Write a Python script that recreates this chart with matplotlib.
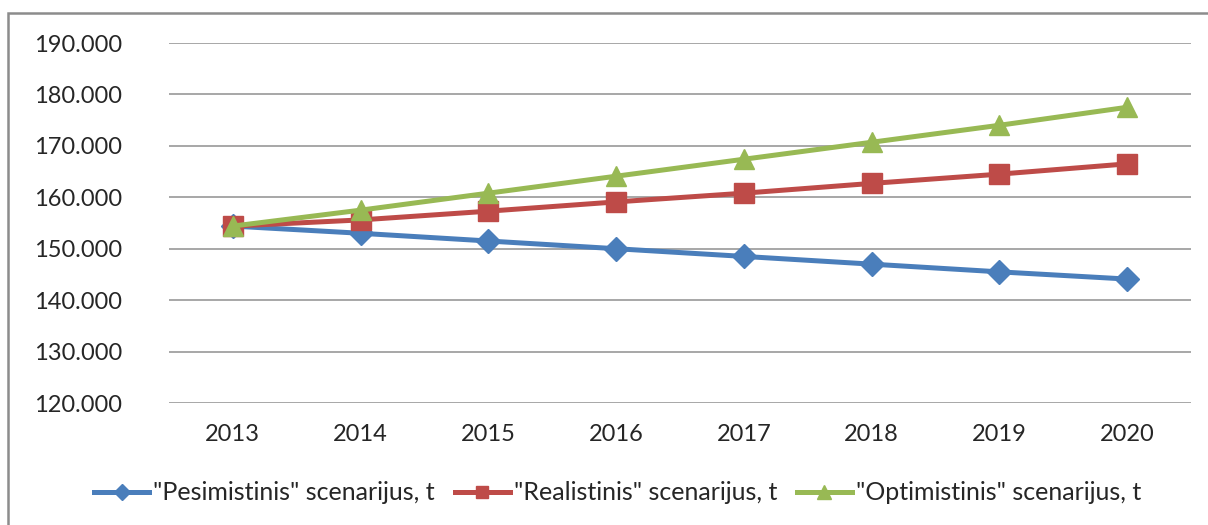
import matplotlib.pyplot as plt
from matplotlib.patches import Rectangle
from matplotlib.ticker import FuncFormatter

years = ['2013', '2014', '2015', '2016', '2017', '2018', '2019', '2020']
pesimistinis = [154400, 153000, 151500, 150000, 148500, 147000, 145500, 144100]
realistinis = [154400, 155600, 157300, 159100, 160800, 162700, 164500, 166500]
optimistinis = [154400, 157500, 160800, 164100, 167400, 170700, 174000, 177500]
series_names = ['"Pesimistinis" scenarijus, t', '"Realistinis" scenarijus, t', '"Optimistinis" scenarijus, t']

plt.rcParams['font.family'] = ['Lato', 'DejaVu Sans']

fig = plt.figure(figsize=(12.08, 5.25), dpi=100)
ax = fig.add_axes([169 / 1208, 1 - 403 / 525, 1022 / 1208, 360 / 525])

# outer chart frame (cut off at right and bottom like the screenshot)
fig.patches.append(Rectangle((8 / 1208, -0.1), 1.2, 1.1 - 13 / 525, transform=fig.transFigure,
                             fill=False, edgecolor='#8c8c8c', linewidth=1.8))

x = list(range(len(years)))
ax.plot(x, pesimistinis, color='#4A7EBB', lw=3.6, marker='D', ms=12, label=series_names[0], zorder=3)
ax.plot(x, realistinis, color='#BE4B48', lw=3.6, marker='s', ms=14, label=series_names[1], zorder=3)
ax.plot(x, optimistinis, color='#98B954', lw=3.6, marker='^', ms=15, label=series_names[2], zorder=3)

ax.set_xlim(-0.5, len(years) - 0.5)
ax.set_ylim(120000, 190000)
ax.set_yticks(range(120000, 190001, 10000))
ax.yaxis.set_major_formatter(FuncFormatter(lambda v, p: f'{int(v):,}'.replace(',', '.')))
ax.set_xticks(x)
ax.set_xticklabels(years)
ax.grid(axis='y', color='#a0a0a0', linewidth=1.3)
ax.set_axisbelow(True)
for s in ['top', 'right', 'left', 'bottom']:
    ax.spines[s].set_visible(False)
ax.tick_params(length=0, labelsize=17, colors='#262626')
ax.tick_params(axis='y', pad=34)
ax.tick_params(axis='x', pad=15)

ax.legend(loc='center', bbox_to_anchor=(0.439, -0.25), ncol=3, frameon=False,
          fontsize=18, handlelength=2.2, handletextpad=0.15, columnspacing=0.8, markerscale=0.65,
          labelcolor='#262626')

fig.savefig('out.png', dpi=100)
